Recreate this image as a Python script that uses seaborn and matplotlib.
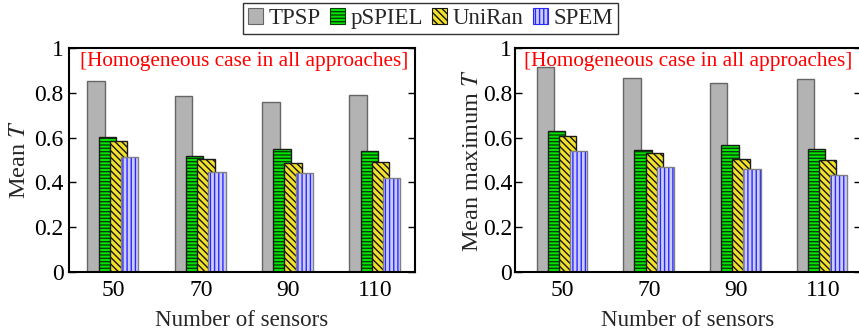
import numpy as np
import matplotlib
matplotlib.use("Agg")
import matplotlib.pyplot as plt
import seaborn as sns
from matplotlib.patches import Patch

# ---- data -------------------------------------------------------------
sensor_counts = ["50", "70", "90", "110"]
approaches = ["TPSP", "pSPIEL", "UniRan", "SPEM"]

tpsp_mean = [0.853, 0.787, 0.759, 0.790]
pspiel_mean = [0.603, 0.520, 0.548, 0.538]
uniran_mean = [0.583, 0.505, 0.488, 0.490]
spem_mean = [0.512, 0.445, 0.440, 0.420]

tpsp_max = [0.917, 0.868, 0.845, 0.863]
pspiel_max = [0.630, 0.545, 0.566, 0.548]
uniran_max = [0.608, 0.532, 0.505, 0.500]
spem_max = [0.542, 0.470, 0.460, 0.432]

y_ticks = [0, 0.2, 0.4, 0.6, 0.8, 1]
y_tick_labels = ["0", "0.2", "0.4", "0.6", "0.8", "1"]

note = "[Homogeneous case in all approaches]"

# ---- styling ------------------------------------------------------------
sns.set_style("white")
plt.rcParams["font.family"] = ["Liberation Serif", "DejaVu Serif"]
plt.rcParams["mathtext.fontset"] = "stix"
plt.rcParams["hatch.linewidth"] = 1.0

styles = {
    "TPSP":   dict(face="#b3b3b3", hatch="",         ink="#b3b3b3", edge="#666666", offset=-0.200),
    "pSPIEL": dict(face="#00e600", hatch="-----",    ink="#0b3d0b", edge="#1a1a1a", offset=-0.072),
    "UniRan": dict(face="#f2e02a", hatch="\\\\\\\\\\", ink="#151515", edge="#1a1a1a", offset=0.056),
    "SPEM":   dict(face="#ccccff", hatch="||||",     ink="#2a2aff", edge="#808080", offset=0.184),
}
bar_width = 0.2


def draw_panel(ax, series, ylabel, xlim, note_x, tick_pad, ylabel_pad):
    groups = np.arange(len(sensor_counts))
    for name, values in zip(approaches, series):
        st = styles[name]
        pos = groups + st["offset"]
        # filled, hatched body
        sns.barplot(x=pos, y=values, native_scale=True, orient="x",
                    width=bar_width, errorbar=None, saturation=1,
                    color=st["face"], facecolor=st["face"],
                    hatch=st["hatch"], edgecolor=st["ink"], linewidth=0,
                    ax=ax)
        # outline
        sns.barplot(x=pos, y=values, native_scale=True, orient="x",
                    width=bar_width, errorbar=None,
                    facecolor="none", edgecolor=st["edge"], linewidth=1.0,
                    ax=ax)

    ax.set_xlim(*xlim)
    ax.set_ylim(0, 1)
    ax.set_xticks(groups)
    ax.set_xticklabels(sensor_counts)
    ax.set_yticks(y_ticks)
    ax.set_yticklabels(y_tick_labels)

    for sp in ax.spines.values():
        sp.set_visible(True)
        sp.set_color("black")
        sp.set_linewidth(1.5)

    ax.tick_params(axis="y", direction="in", left=True, right=True,
                   length=5, width=1, labelsize=17, pad=tick_pad, colors="black")
    ax.tick_params(axis="x", length=0, labelsize=17, pad=6, colors="black")

    ax.set_ylabel(ylabel, fontsize=17.5, labelpad=ylabel_pad)
    ax.set_xlabel("Number of sensors", fontsize=16.5, labelpad=6)
    ax.text(note_x, 0.94, note, transform=ax.transAxes, ha="center",
            va="center", color="#ff0000", fontsize=15.3)


fig = plt.figure(figsize=(8.59, 3.35), dpi=100)
W, H = 859.0, 335.0
ax1 = fig.add_axes([69 / W, (H - 272) / H, 346 / W, 224 / H])
ax2 = fig.add_axes([515 / W, (H - 272) / H, 346 / W, 224 / H])

draw_panel(ax1, [tpsp_mean, pspiel_mean, uniran_mean, spem_mean],
           "Mean $T$", (-0.51, 3.45), 0.505, 4, 3)
draw_panel(ax2, [tpsp_max, pspiel_max, uniran_max, spem_max],
           "Mean maximum $T$", (-0.55, 3.44), 0.5, 2, 0)

handles = []
for name in approaches:
    st = styles[name]
    handles.append(Patch(facecolor=st["face"], hatch=st["hatch"],
                         edgecolor=st["edge"] if name == "TPSP" else st["ink"],
                         linewidth=0.8))

leg = fig.legend(handles, approaches, loc="center", bbox_to_anchor=(0.501, 0.945),
                 ncol=4, frameon=True, fancybox=False, edgecolor="black",
                 fontsize=16.5, handlelength=0.65, handleheight=0.65,
                 handletextpad=0.25, columnspacing=0.4, borderpad=0.2,
                 borderaxespad=0)
leg.get_frame().set_linewidth(1.0)

fig.savefig("out.png", dpi=100)
